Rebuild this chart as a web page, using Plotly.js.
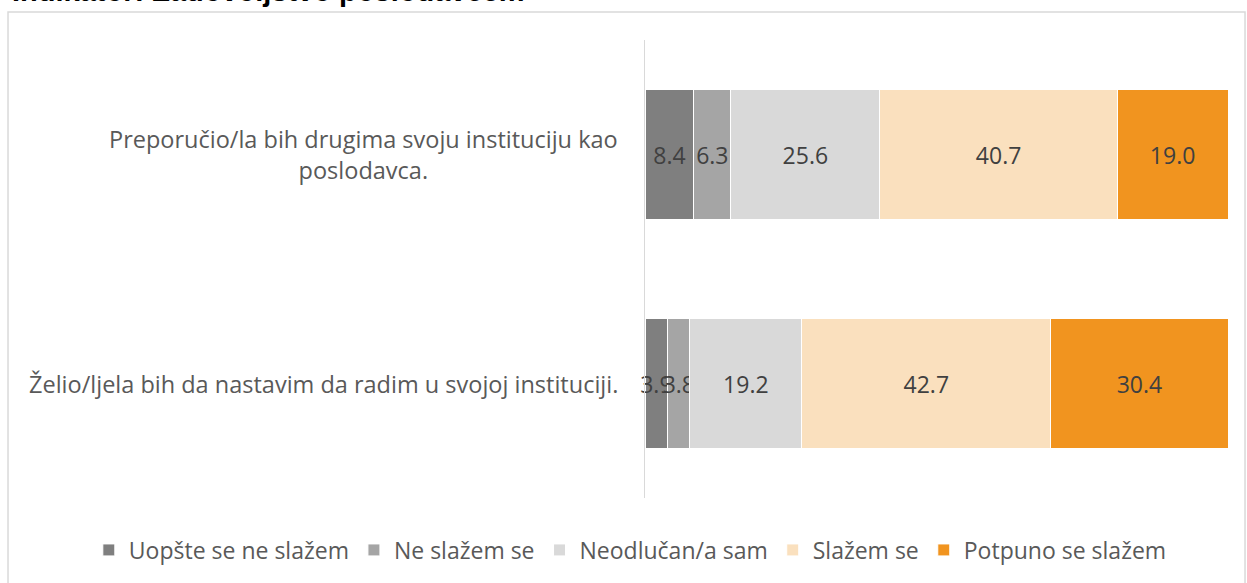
<!DOCTYPE html>
<html>
<head>
<meta charset="utf-8">
<script src="https://cdn.plot.ly/plotly-3.0.1.min.js"></script>
<style>html,body{margin:0;padding:0;background:#fff;}#chart{width:1247px;height:583px;}</style>
</head>
<body>
<div id="chart"></div>
<script>
const chartTitle = "Indikator: Zadovoljstvo poslodavcem";
const categories = [
  "Preporučio/la bih drugima svoju instituciju kao<br>poslodavca.",
  "Želio/ljela bih da nastavim da radim u svojoj instituciji."
];
const seriesNames = ["Uopšte se ne slažem", "Ne slažem se", "Neodlučan/a sam", "Slažem se", "Potpuno se slažem"];
const uopsteSeNeSlazem = [8.4, 3.9];
const neSlazemSe = [6.3, 3.8];
const neodlucan = [25.6, 19.2];
const slazemSe = [40.7, 42.7];
const potpunoSeSlazem = [19.0, 30.4];
const seriesValues = [uopsteSeNeSlazem, neSlazemSe, neodlucan, slazemSe, potpunoSeSlazem];
const colors = ["#7f7f7f", "#a5a5a5", "#d9d9d9", "#fae0be", "#f1941f"];

const FONT = "Open Sans, Liberation Sans, sans-serif";

const traces = seriesValues.map((vals, i) => ({
  type: "bar",
  orientation: "h",
  name: seriesNames[i],
  y: categories,
  x: vals,
  marker: {color: colors[i], line: {color: "#ffffff", width: 1}},
  text: vals.map(v => v.toFixed(1)),
  textposition: "inside",
  insidetextanchor: "middle",
  textangle: 0,
  constraintext: "none",
  cliponaxis: false,
  textfont: {family: FONT, size: 23, color: "#404040"},
  hoverinfo: "skip"
}));

const annotations = categories.map(c => ({
  xref: "paper", yref: "y",
  x: -0.043, y: c,
  xanchor: "right", yanchor: "middle",
  align: "center",
  text: c,
  showarrow: false,
  font: {family: FONT, size: 23.5, color: "#595959"}
}));
annotations.push({
  xref: "paper", yref: "paper",
  x: -1.089, y: 1.068,
  xanchor: "left", yanchor: "bottom",
  text: "<b>" + chartTitle + "</b>",
  showarrow: false,
  font: {family: "Liberation Sans, Arial, sans-serif", size: 29, color: "#000000"}
});

const layout = {
  width: 1247, height: 583,
  margin: {l: 645, r: 19, t: 40, b: 85},
  paper_bgcolor: "#ffffff",
  plot_bgcolor: "#ffffff",
  barmode: "stack",
  bargap: 0.43,
  showlegend: true,
  legend: {
    orientation: "h",
    x: -0.954, xanchor: "left",
    y: -0.1135, yanchor: "middle",
    font: {family: FONT, size: 23, color: "#595959"},
    itemwidth: 30,
    traceorder: "normal"
  },
  xaxis: {range: [0, 100], showgrid: false, zeroline: false, showticklabels: false, ticks: "", showline: false, fixedrange: true},
  yaxis: {autorange: "reversed", showticklabels: false, ticks: "", showgrid: false, zeroline: false, showline: true, linecolor: "#d9d9d9", linewidth: 1, fixedrange: true},
  annotations: annotations,
  shapes: [{
    type: "rect", xref: "paper", yref: "paper",
    x0: -1.0926, x1: 1.0292, y0: -0.21, y1: 1.0611,
    line: {color: "#d9d9d9", width: 1.5}, fillcolor: "rgba(0,0,0,0)", layer: "below"
  }]
};

Plotly.newPlot("chart", traces, layout, {displayModeBar: false, staticPlot: true});
</script>
</body>
</html>
